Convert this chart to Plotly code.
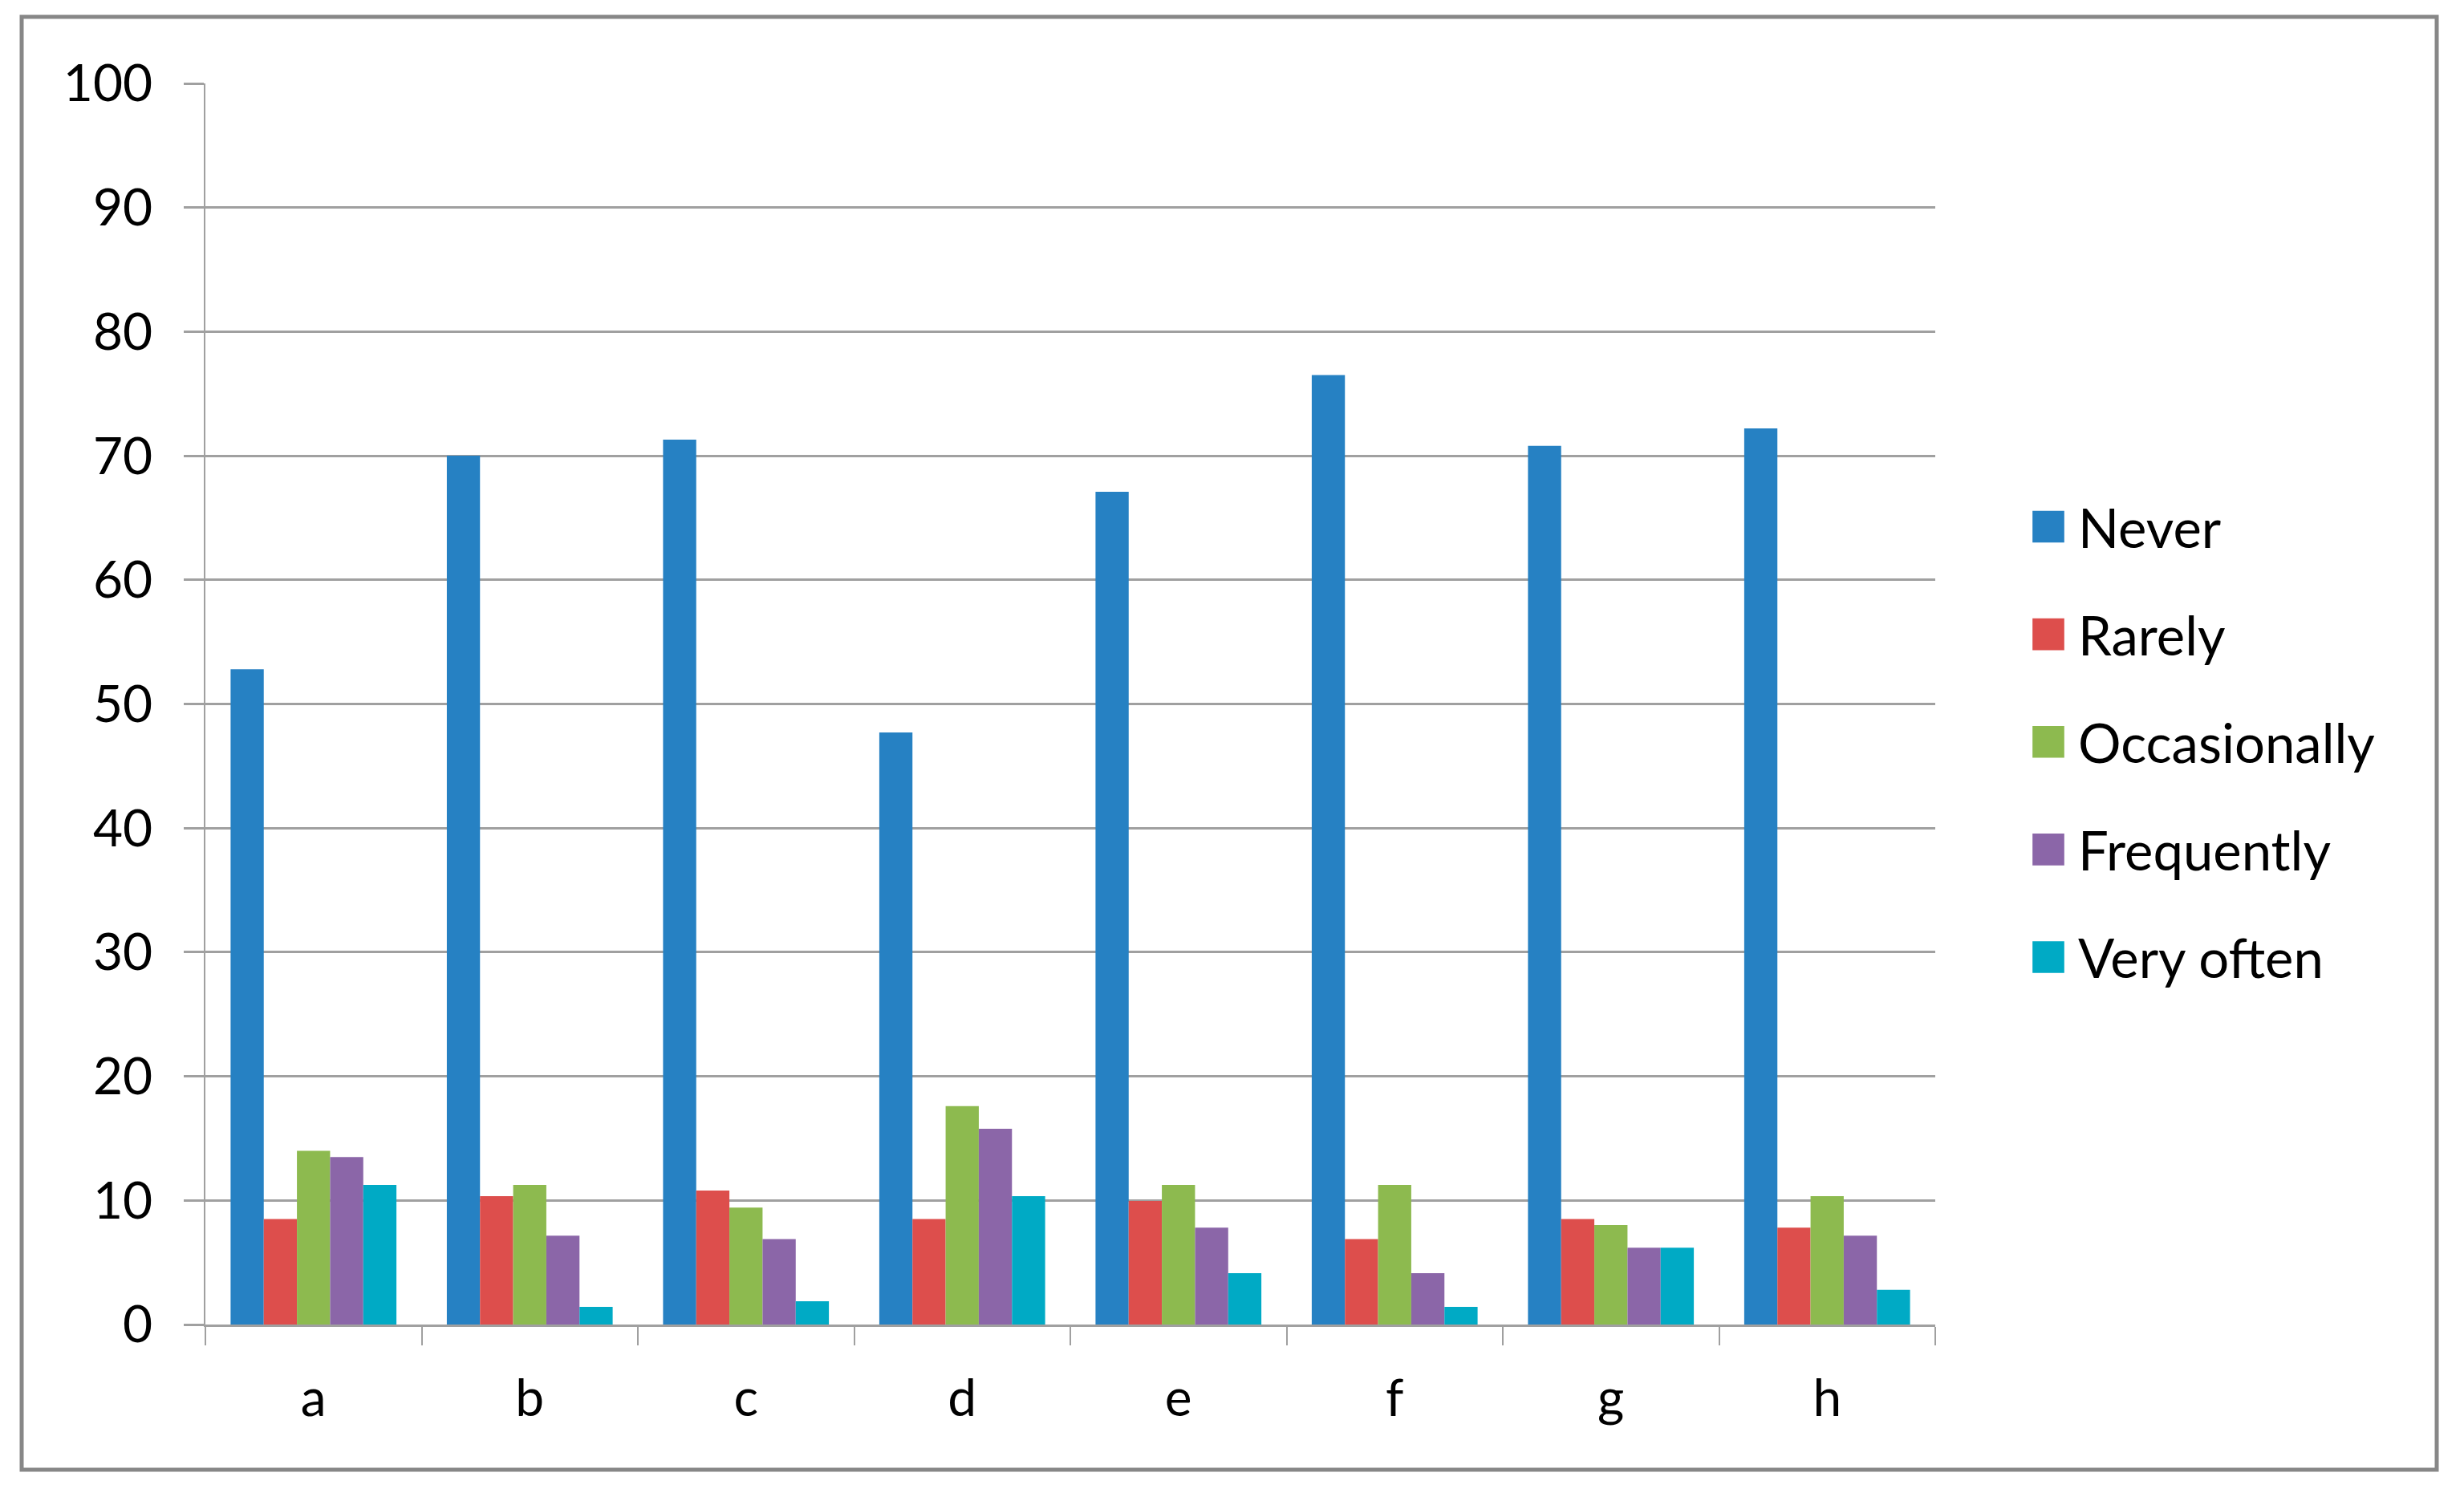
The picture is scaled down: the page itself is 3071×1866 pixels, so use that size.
import plotly.graph_objects as go

categories = ["a", "b", "c", "d", "e", "f", "g", "h"]

never = [52.8, 70.0, 71.3, 47.7, 67.1, 76.5, 70.8, 72.2]
rarely = [8.5, 10.35, 10.8, 8.5, 9.96, 6.88, 8.5, 7.8]
occasionally = [14.0, 11.25, 9.42, 17.6, 11.25, 11.25, 8.02, 10.35]
frequently = [13.5, 7.16, 6.88, 15.78, 7.8, 4.14, 6.19, 7.16]
very_often = [11.25, 1.42, 1.88, 10.35, 4.14, 1.42, 6.19, 2.8]

series = [
    ("Never", never, "#2681C3"),
    ("Rarely", rarely, "#DD4E4C"),
    ("Occasionally", occasionally, "#8DBA4F"),
    ("Frequently", frequently, "#8B66A8"),
    ("Very often", very_often, "#00AAC5"),
]

# page body has an 8px margin, so work in screen coords and shift
OFF = 8
W, H = 3071 - 2 * OFF, 1866 - 2 * OFF
L, R, T, B = 256 - OFF, 2412 - OFF, 104 - OFF, 1651 - OFF
pw, ph = R - L, B - T

fig = go.Figure()
for name, vals, col in series:
    fig.add_trace(go.Bar(x=categories, y=vals, name=name, legendgroup=name,
                         marker=dict(color=col, line=dict(width=0))))

tick_font = dict(family="Lato, 'Open Sans', sans-serif", size=64, color="#000000")
leg_font = dict(family="Lato, 'Open Sans', sans-serif", size=67, color="#000000")
grid = "#A0A0A0"

fig.update_layout(
    width=W, height=H,
    margin=dict(l=L, r=W - R, t=T, b=H - B, pad=0),
    paper_bgcolor="white", plot_bgcolor="white",
    barmode="group", bargap=0.233, bargroupgap=0,
    font=tick_font,
    legend=dict(x=(2516 - OFF - L) / pw, xanchor="left", y=(B - (925 - OFF)) / ph, yanchor="middle",
                font=leg_font, tracegroupgap=44, bgcolor="rgba(0,0,0,0)", itemwidth=64),
    xaxis=dict(type="category", showline=True, linecolor=grid, linewidth=3,
               ticks="outside", tickson="boundaries", ticklen=23, tickwidth=2,
               tickcolor=grid, showgrid=False, tickfont=tick_font, ticklabelstandoff=34),
    yaxis=dict(range=[0, 100], dtick=10, showline=True, linecolor=grid, linewidth=2,
               ticks="outside", ticklen=25, tickwidth=3, tickcolor=grid,
               showgrid=True, gridcolor=grid, gridwidth=3, zeroline=False,
               tickfont=tick_font, ticklabelstandoff=26),
)

# outer chart border
fig.add_shape(type="rect", xref="paper", yref="paper",
              x0=(27 - OFF - L) / pw, x1=(3037 - OFF - L) / pw,
              y0=(B - (1832 - OFF)) / ph, y1=(B - (21 - OFF)) / ph,
              line=dict(color="#878787", width=5), fillcolor="rgba(0,0,0,0)")

# legend keys in the original are big squares; scale plotly's 12px ones up
js = """
var gd = document.getElementById('{plot_id}');
function bigKeys() {
  gd.querySelectorAll('.legendpoints path').forEach(function(p) {
    var t = p.getAttribute('data-t');
    if (t === null) { t = p.getAttribute('transform') || ''; p.setAttribute('data-t', t); }
    p.setAttribute('transform', t + ' scale(3.3)');
  });
}
bigKeys();
gd.on('plotly_afterplot', bigKeys);
"""

fig.write_html("out.html", post_script=js)
